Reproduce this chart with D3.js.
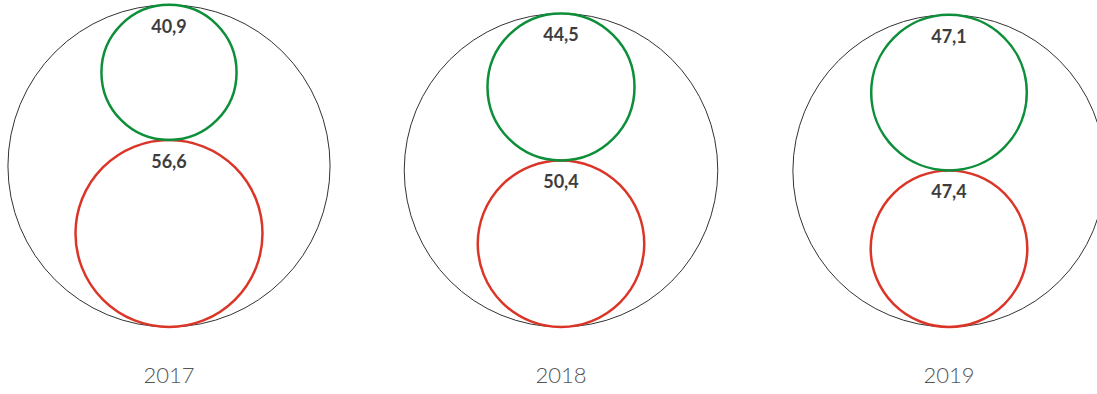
<!DOCTYPE html>
<html>
<head>
<meta charset="utf-8">
<script src="https://cdnjs.cloudflare.com/ajax/libs/d3/7.8.5/d3.min.js"></script>
<style>
	body { margin: 0; background: #fff; }
	svg { display: block; }
</style>
</head>
<body>
<div id="chart"></div>
<script>
var w = 1097,
	h = 394;

var years = ["2017", "2018", "2019"];
var greenValues = [40.9, 44.5, 47.1];
var redValues = [56.6, 50.4, 47.4];

var root = d3.select("#chart").append("svg").attr("width", w).attr("height", h);

var x = d3.scaleOrdinal().domain(years).range([169, 561, 949]);
// radius grows linearly with the value
var r = d3.scaleLinear().domain([0, 100]).range([0, 165.2]);
var bottom = 327;

var fmt = function(v) {
	return d3.format(".1f")(v).replace(".", ",");
};

var rows = years.map(function(y, i) {
	return { year: y, green: greenValues[i], red: redValues[i] };
});

var g = root.selectAll("g.year").data(rows).enter().append("g")
	.attr("class", "year")
	.attr("transform", function(d) { return "translate(" + x(d.year) + ",0)"; });

// outer circle holds both
g.append("circle")
	.attr("cx", 0)
	.attr("cy", function(d) { return bottom - r(d.green) - r(d.red); })
	.attr("r", function(d) { return r(d.green) + r(d.red); })
	.style("fill", "none").style("stroke", "#333").style("stroke-width", 1);

g.append("circle")
	.attr("cx", 0)
	.attr("cy", function(d) { return bottom - r(d.red); })
	.attr("r", function(d) { return r(d.red); })
	.style("fill", "none").style("stroke", "#db3528").style("stroke-width", 2.5);

g.append("circle")
	.attr("cx", 0)
	.attr("cy", function(d) { return bottom - 2 * r(d.red) - r(d.green); })
	.attr("r", function(d) { return r(d.green); })
	.style("fill", "none").style("stroke", "#0d8f3a").style("stroke-width", 2.5);

g.append("text")
	.attr("x", 0)
	.attr("y", function(d) { return bottom - 2 * r(d.red) - 2 * r(d.green) + 28; })
	.attr("text-anchor", "middle")
	.style("font-family", "Lato").style("font-weight", 700).style("font-size", "18px").style("fill", "#3d3d3d")
	.text(function(d) { return fmt(d.green); });

g.append("text")
	.attr("x", 0)
	.attr("y", function(d) { return bottom - 2 * r(d.red) + 28; })
	.attr("text-anchor", "middle")
	.style("font-family", "Lato").style("font-weight", 700).style("font-size", "18px").style("fill", "#3d3d3d")
	.text(function(d) { return fmt(d.red); });

g.append("text")
	.attr("x", 0)
	.attr("y", 383)
	.attr("text-anchor", "middle")
	.style("font-family", "Lato").style("font-weight", 300).style("font-size", "22px").style("fill", "#555")
	.text(function(d) { return d.year; });
</script>
</body>
</html>
